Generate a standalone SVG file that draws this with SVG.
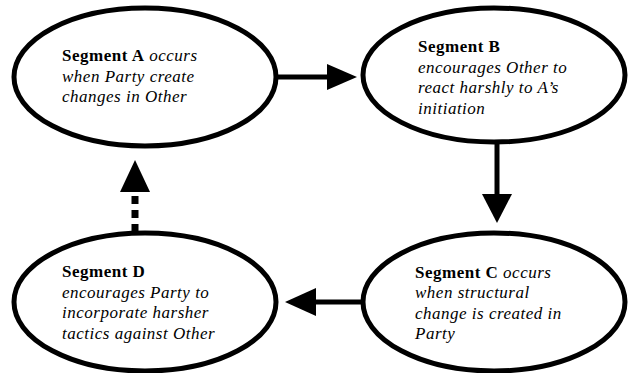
<svg xmlns="http://www.w3.org/2000/svg" width="628" height="373" viewBox="0 0 628 373">
<style>
.node ellipse{fill:#fff;stroke:#000;stroke-width:5}
.t{font-family:'Liberation Serif','Times New Roman',serif;font-size:17px;fill:#000;letter-spacing:0.5px}
.b{font-weight:bold;font-style:normal}
.i{font-style:italic}
.conn line{stroke:#000;stroke-width:5}
.conn polygon{fill:#000}
</style>
<rect width="628" height="373" fill="#fff"/>
<g class="conn">
<line x1="277" y1="77" x2="330" y2="77"/>
<polygon points="327,64 357,77 327,90"/>
<line x1="497" y1="143" x2="497" y2="197"/>
<polygon points="482,194 497,223 512,194"/>
<line x1="362" y1="302" x2="314" y2="302"/>
<polygon points="316,288 285,302 316,316"/>
<line x1="135" y1="232" x2="135" y2="190" stroke-dasharray="8,6" style="stroke-width:7"/>
<polygon points="120,192 135,160 150,192"/>
</g>
<g id="nodeA" class="node">
<ellipse cx="145" cy="77" rx="131" ry="69"/>
<text class="t" x="62" y="61" font-family="Liberation Serif"><tspan class="b">Segment A</tspan><tspan class="i"> occurs</tspan></text>
<text class="t i" x="62" y="82" font-family="Liberation Serif">when Party create</text>
<text class="t i" x="62" y="102" font-family="Liberation Serif">changes in Other</text>
</g>
<g id="nodeB" class="node">
<ellipse cx="494" cy="75" rx="131" ry="67"/>
<text class="t b" x="418" y="52" font-family="Liberation Serif">Segment B</text>
<text class="t i" x="418" y="73" font-family="Liberation Serif">encourages Other to</text>
<text class="t i" x="418" y="93" font-family="Liberation Serif">react harshly to A’s</text>
<text class="t i" x="418" y="114" font-family="Liberation Serif">initiation</text>
</g>
<g id="nodeC" class="node">
<ellipse cx="494" cy="302" rx="131" ry="69"/>
<text class="t" x="415" y="278" font-family="Liberation Serif"><tspan class="b">Segment C</tspan><tspan class="i"> occurs</tspan></text>
<text class="t i" x="415" y="298" font-family="Liberation Serif">when structural</text>
<text class="t i" x="415" y="319" font-family="Liberation Serif">change is created in</text>
<text class="t i" x="415" y="339" font-family="Liberation Serif">Party</text>
</g>
<g id="nodeD" class="node">
<ellipse cx="145" cy="302" rx="131" ry="69"/>
<text class="t b" x="62" y="277" font-family="Liberation Serif">Segment D</text>
<text class="t i" x="62" y="298" font-family="Liberation Serif">encourages Party to</text>
<text class="t i" x="62" y="318" font-family="Liberation Serif">incorporate harsher</text>
<text class="t i" x="62" y="339" font-family="Liberation Serif">tactics against Other</text>
</g>
</svg>
